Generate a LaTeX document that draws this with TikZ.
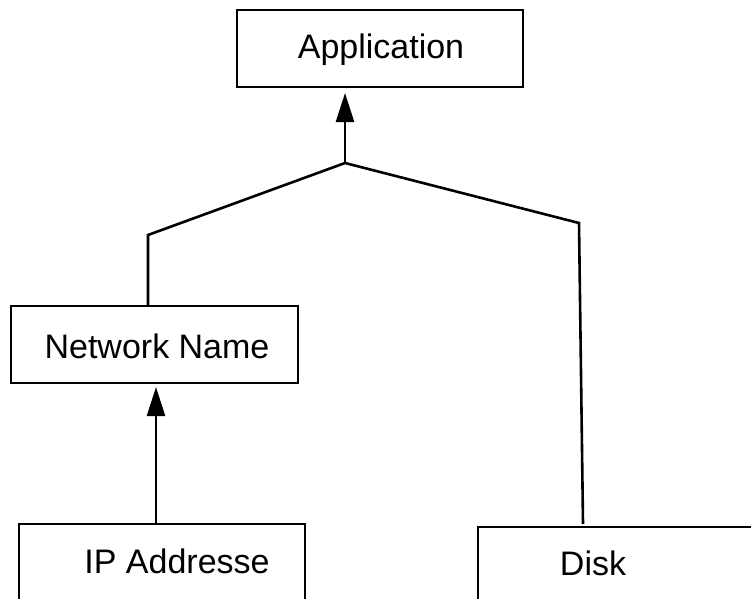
\documentclass[tikz,border=0pt]{standalone}
\usepackage{fontspec}
\setmainfont{Liberation Sans}
\usetikzlibrary{arrows.meta}
\begin{document}
\begin{tikzpicture}[x=1pt,y=-1pt,
  box/.style={draw=black,line width=2.6pt,minimum width=#1,minimum height=77pt,inner sep=0pt,outer sep=0pt},
  lbl/.style={font=\fontsize{34}{40}\selectfont,inner sep=0pt,anchor=center},
  wire/.style={line width=2.6pt,line join=miter},
  arr/.style={wire,-{Triangle[width=18pt,length=29pt]}}]
\fill[white] (0,0) rectangle (751,598);
\useasboundingbox (0,0) rectangle (751,598);
\clip (0,0) rectangle (751,598);
% boxes
\node[box=286pt] (app) at (380,48.5) {};
\node[box=287pt] (net) at (154.5,344.5) {};
\node[box=286pt,minimum height=150pt] (ip) at (162,599) {};
\node[box=340pt,minimum height=150pt] (disk) at (648,602) {};
% labels
\node[lbl] (tapp) at (381,50) {Application};
\node[lbl] (tnet) at (157,346) {Network Name};
\node[lbl] (tip) at (177,561) {IP Addresse};
\node[lbl] (tdisk) at (593,563) {Disk};
% connectors
\coordinate (j) at (345,163);
\coordinate (lb) at (148,235);
\coordinate (rb) at (579,223);
\coordinate (apptip) at (345,93);
\coordinate (nettip) at (156,387);
\draw[arr] (j) -- (apptip);
\draw[wire] ([xshift=-6.5pt]net.north) -- (lb) -- (j) -- (rb) -- ([xshift=-65pt,yshift=3pt]disk.north);
\draw[arr] ([xshift=-6pt]ip.north) -- (nettip);
\end{tikzpicture}
\end{document}
